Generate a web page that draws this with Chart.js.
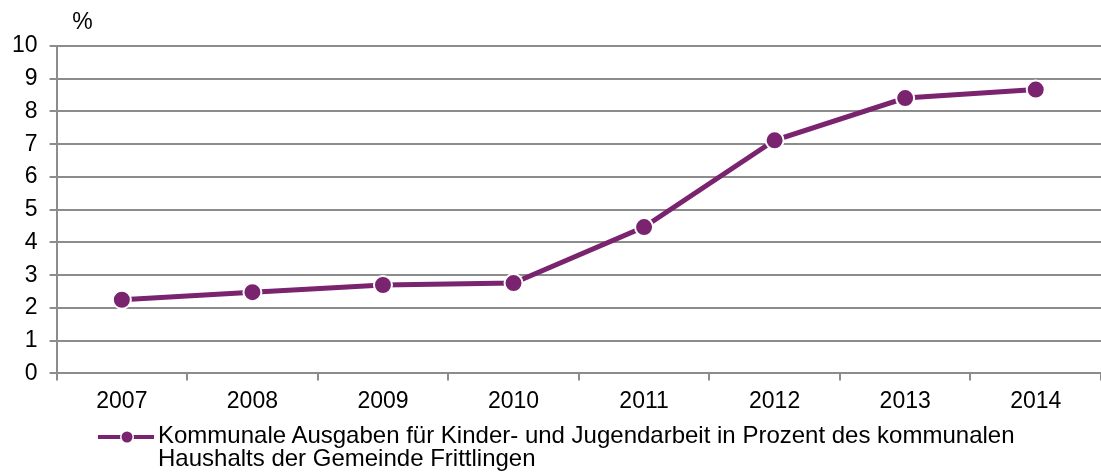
<!DOCTYPE html>
<html>
<head>
<meta charset="utf-8">
<script src="https://cdn.jsdelivr.net/npm/chart.js@4"></script>
<style>
  html, body { margin: 0; padding: 0; background: #fff; overflow: hidden; }
  #wrap { position: relative; width: 1112px; height: 472px; }
  #legend {
    position: absolute; left: 97px; top: 423px;
    font-family: "Liberation Sans", Arial, sans-serif; font-size: 24px; line-height: 23px; color: #000;
  }
  #legend .key { position: absolute; left: 0; top: 6px; width: 58px; height: 16px; }
  #legend .txt { position: absolute; left: 61px; top: 0; white-space: nowrap; }
</style>
</head>
<body>
<div id="wrap">
  <canvas id="chart"></canvas>
  <div id="legend">
    <canvas class="key" id="key" width="58" height="16"></canvas>
    <div class="txt">Kommunale Ausgaben für Kinder- und Jugendarbeit in Prozent des kommunalen<br>Haushalts der Gemeinde Frittlingen</div>
  </div>
</div>
<script>
//data
const years = ['2007', '2008', '2009', '2010', '2011', '2012', '2013', '2014'];
const shares = [2.25, 2.48, 2.7, 2.76, 4.47, 7.12, 8.41, 8.67];
const yTicks = [0, 1, 2, 3, 4, 5, 6, 7, 8, 9, 10];

const PURPLE = '#7a236e';
const GRID = '#8c8c8c';
const FONT = { family: '"Liberation Sans", Arial, sans-serif', size: 23 };

//"%" above the y axis
const unitLabel = {
  id: 'unitLabel',
  afterDraw(chart) {
    const ctx = chart.ctx;
    ctx.save();
    ctx.font = '23px "Liberation Sans", Arial, sans-serif';
    ctx.fillStyle = '#000';
    ctx.textAlign = 'center';
    ctx.textBaseline = 'middle';
    ctx.fillText('%', chart.chartArea.left + 26, chart.chartArea.top - 23);
    ctx.restore();
  }
};

new Chart(document.getElementById('chart'), {
  type: 'line',
  data: {
    labels: years,
    datasets: [{
      label: 'Kommunale Ausgaben für Kinder- und Jugendarbeit in Prozent des kommunalen Haushalts der Gemeinde Frittlingen',
      data: shares,
      borderColor: PURPLE,
      borderWidth: 5,
      pointBackgroundColor: PURPLE,
      pointBorderColor: '#fff',
      pointBorderWidth: 2,
      pointRadius: 9,
      pointHoverRadius: 9,
      tension: 0,
      clip: false
    }]
  },
  options: {
    responsive: true,
    maintainAspectRatio: false,
    animation: false,
    layout: { padding: { left: 0, top: 46, right: 0, bottom: 50 } },
    plugins: { legend: { display: false }, tooltip: { enabled: false } },
    scales: {
      x: {
        offset: true,
        grid: { offset: true, drawOnChartArea: false, color: GRID, lineWidth: 2, tickLength: 7 },
        border: { color: GRID, width: 2 },
        ticks: { color: '#000', font: FONT, padding: 7, maxRotation: 0 }
      },
      y: {
        min: 0,
        max: 10,
        afterBuildTicks(axis) { axis.ticks = yTicks.map(v => ({ value: v })); },
        grid: { color: GRID, lineWidth: 2, tickLength: 7 },
        border: { color: GRID, width: 2 },
        ticks: { color: '#000', font: FONT, padding: 12 }
      }
    }
  },
  plugins: [unitLabel]
});

//legend key: line with a dot
const k = document.getElementById('key').getContext('2d');
k.strokeStyle = PURPLE;
k.lineWidth = 4;
k.beginPath(); k.moveTo(1, 8); k.lineTo(57, 8); k.stroke();
k.fillStyle = '#fff';
k.beginPath(); k.arc(30, 8, 7, 0, Math.PI * 2); k.fill();
k.fillStyle = PURPLE;
k.beginPath(); k.arc(30, 8, 5.5, 0, Math.PI * 2); k.fill();
</script>
</body>
</html>
